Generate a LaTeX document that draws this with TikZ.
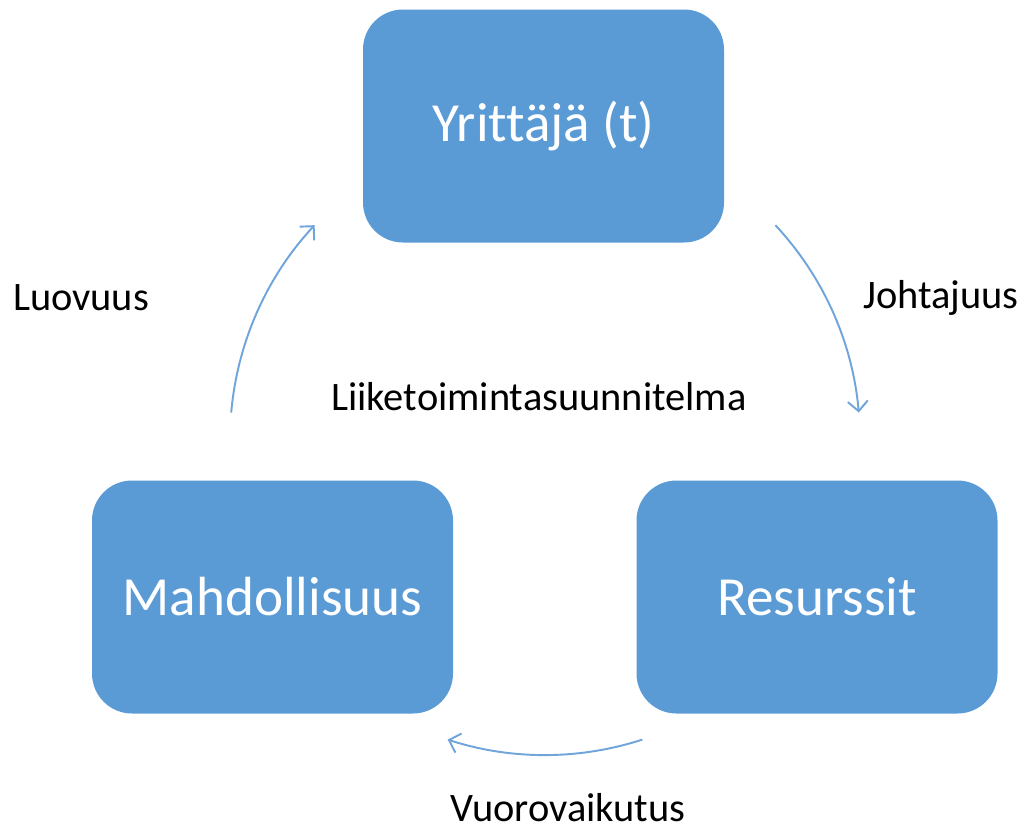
\documentclass[tikz,border=0pt]{standalone}
\usepackage{fontspec}
\setmainfont[Ligatures=NoCommon]{Carlito}
\usepackage{tikz}
\usetikzlibrary{arrows.meta, positioning, calc}
\definecolor{boxblue}{HTML}{5B9BD5}
\definecolor{arcblue}{HTML}{6FA5DA}
\tikzset{%
	box/.style={draw=none, fill=boxblue, rectangle, rounded corners=0.8cm,%
		minimum width=7.22cm, minimum height=4.66cm, inner sep=0mm,%
		text=white, font=\fontsize{31.4}{37}\selectfont},
	lbl/.style={inner sep=0mm, text=black, font=\fontsize{23}{28}\selectfont},
	cyc/.style={draw=arcblue, line width=1.1pt,%
		-{Straight Barb[length=2mm, width=4mm, line width=1.1pt]}}
}
\begin{document}
\begin{tikzpicture}
	\useasboundingbox (0,0) rectangle (20.54,-16.62);
	\node[box] (yrit) at (10.87,-2.52) {Yrittäjä (t)};
	\node[box] (mahd) at (5.45,-11.94) {Mahdollisuus};
	\node[box] (resu) at (16.34,-11.94) {Resurssit};
	\node[lbl] (luov) at (1.62,-5.96) {Luovuus};
	\node[lbl] (joht) at (18.82,-5.96) {Johtajuus};
	\node[lbl] (liik) at (10.78,-7.94) {Liiketoimintasuunnitelma};
	\node[lbl] (vuor) at (11.36,-16.16) {Vuorovaikutus};
	\coordinate (mid) at (10.9,-8.8);
	\coordinate (luov-s) at ($(mid)+(175:6.3)$);
	\coordinate (joht-s) at ($(mid)+(43:6.3)$);
	\coordinate (vuor-s) at ($(mid)+(-72:6.3)$);
	\draw [cyc] (luov-s) arc[start angle=175, end angle=137, radius=6.3];
	\draw [cyc] (joht-s) arc[start angle=43, end angle=5, radius=6.3];
	\draw [cyc] (vuor-s) arc[start angle=-72, end angle=-108, radius=6.3];
\end{tikzpicture}
\end{document}
